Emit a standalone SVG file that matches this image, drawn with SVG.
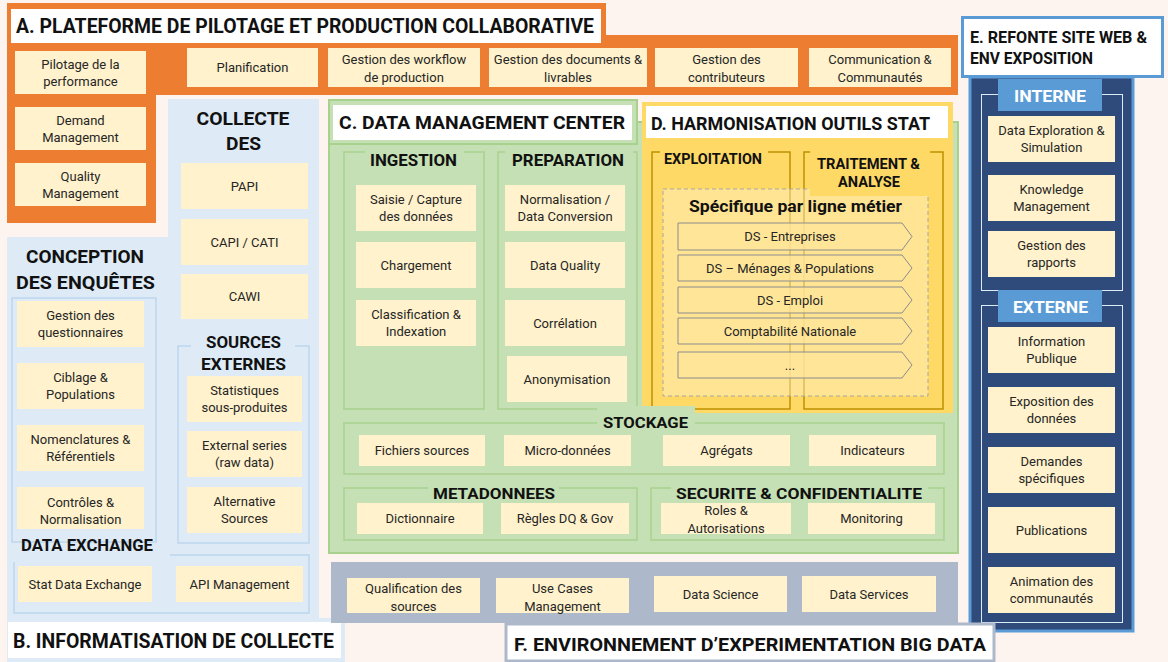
<svg xmlns="http://www.w3.org/2000/svg" width="1168" height="662" viewBox="0 0 1168 662">
<style>
.n rect{fill:#FFF2CC}
.nt{font-family:Roboto,"Liberation Sans",sans-serif;font-size:13px;fill:#262626;text-anchor:middle}
.tt{font-family:Roboto,"Liberation Sans",sans-serif;font-weight:bold;fill:#111}
.tc{text-anchor:middle}
.gg{fill:none;stroke:#A9D18E;stroke-width:1.5}
.gb{fill:none;stroke:#BDD7EE;stroke-width:1.5}
.gy{fill:none;stroke:#BF9000;stroke-width:1.5}
.ge{fill:none;stroke:#DDEBF7;stroke-width:1}
.ar{fill:#FFE699;fill-opacity:0.75;stroke:#8C8C8C;stroke-width:1}
</style>
<rect x="0" y="0" width="1168" height="662" fill="#FDF4EF"/>

<!-- Region A -->
<g id="regionA">
<path d="M7,3 H606 V35 H958 V95 H156 V223 H7 Z" fill="#ED7D31"/>
<rect x="11" y="9" width="590" height="34" fill="#FFFFFF"/>
<text class="tt" x="16" y="33" font-size="20" textLength="578" lengthAdjust="spacingAndGlyphs">A. PLATEFORME DE PILOTAGE ET PRODUCTION COLLABORATIVE</text>
</g>

<!-- Region B -->
<g id="regionB">
<path d="M168,99 H319 V618 H345 V662 H7 V237 H168 Z" fill="#DEEBF7"/>
<rect x="8" y="622" width="333" height="36" fill="#FFFFFF"/>
<text class="tt" x="13" y="648" font-size="20" textLength="321" lengthAdjust="spacingAndGlyphs">B. INFORMATISATION DE COLLECTE</text>
<text class="tt tc" x="243" y="125" font-size="19" textLength="93" lengthAdjust="spacingAndGlyphs">COLLECTE</text>
<text class="tt tc" x="243.5" y="150" font-size="19" textLength="35" lengthAdjust="spacingAndGlyphs">DES</text>
<text class="tt tc" x="85" y="263" font-size="19" textLength="118" lengthAdjust="spacingAndGlyphs">CONCEPTION</text>
<text class="tt tc" x="85.5" y="289" font-size="19" textLength="139" lengthAdjust="spacingAndGlyphs">DES ENQUÊTES</text>
<rect class="gb" x="12" y="298" width="144" height="244"/>
<rect class="gb" x="178" y="346" width="131" height="197"/>
<rect x="191" y="338" width="104" height="14" fill="#DEEBF7"/>
<text class="tt tc" x="243.5" y="348" font-size="17" textLength="75" lengthAdjust="spacingAndGlyphs">SOURCES</text>
<text class="tt tc" x="243.5" y="370" font-size="17" textLength="85" lengthAdjust="spacingAndGlyphs">EXTERNES</text>
<path class="gb" d="M170,555 H309 V613 H14 V562"/>
<text class="tt" x="21" y="551" font-size="16" textLength="132" lengthAdjust="spacingAndGlyphs">DATA EXCHANGE</text>
</g>

<!-- Region C -->
<g id="regionC">
<rect x="329" y="122" width="629" height="431" fill="#C5E0B4" stroke="#A9D18E" stroke-width="2"/>
<rect x="329" y="100" width="308" height="44" fill="#C5E0B4" stroke="#A9D18E" stroke-width="2"/>
<rect x="333" y="105" width="299" height="35" fill="#FFFFFF"/>
<text class="tt" x="339" y="129" font-size="19" textLength="286" lengthAdjust="spacingAndGlyphs">C. DATA MANAGEMENT CENTER</text>
<rect class="gg" x="344" y="152" width="140" height="257"/>
<rect x="365" y="146" width="99" height="12" fill="#C5E0B4"/>
<text class="tt tc" x="413.5" y="166" font-size="16" textLength="87" lengthAdjust="spacingAndGlyphs">INGESTION</text>
<rect class="gg" x="498" y="152" width="139" height="257"/>
<rect x="505" y="146" width="128" height="12" fill="#C5E0B4"/>
<text class="tt tc" x="568" y="166" font-size="16" textLength="112" lengthAdjust="spacingAndGlyphs">PREPARATION</text>
</g>

<!-- Region D -->
<g id="regionD">
<rect x="642" y="102" width="311" height="311" fill="#FFD966"/>
<rect x="646" y="106" width="302" height="32" fill="#FFFFFF"/>
<text class="tt" x="651" y="130" font-size="19" textLength="279" lengthAdjust="spacingAndGlyphs">D. HARMONISATION OUTILS STAT</text>
<rect class="gy" x="652" y="152" width="138" height="257"/>
<rect x="660" y="146" width="108" height="12" fill="#FFD966"/>
<text class="tt" x="664" y="164" font-size="14" textLength="98" lengthAdjust="spacingAndGlyphs">EXPLOITATION</text>
<rect class="gy" x="804" y="152" width="139" height="257"/>
<rect x="663" y="189" width="265" height="207" fill="#FFF2CC" fill-opacity="0.45" stroke="#A6A6A6" stroke-width="1" stroke-dasharray="4 3"/>
<rect x="810" y="146" width="120" height="50" fill="#FFD966"/>
<text class="tt tc" x="868.5" y="169" font-size="14" textLength="103" lengthAdjust="spacingAndGlyphs">TRAITEMENT &amp;</text>
<text class="tt tc" x="869" y="187" font-size="14" textLength="62" lengthAdjust="spacingAndGlyphs">ANALYSE</text>
<text class="tt tc" x="795.5" y="212" font-size="16" textLength="213" lengthAdjust="spacingAndGlyphs">Spécifique par ligne métier</text>
</g>

<!-- STOCKAGE / METADONNEES / SECURITE groups -->
<g id="groupsC2">
<rect class="gg" x="344" y="423" width="600" height="51"/>
<rect x="597" y="406" width="98" height="24" fill="#C5E0B4"/>
<text class="tt tc" x="645.5" y="428" font-size="15" textLength="85" lengthAdjust="spacingAndGlyphs">STOCKAGE</text>
<rect class="gg" x="344" y="488" width="293" height="52"/>
<rect x="428" y="482" width="131" height="12" fill="#C5E0B4"/>
<text class="tt tc" x="494" y="499" font-size="15" textLength="122" lengthAdjust="spacingAndGlyphs">METADONNEES</text>
<rect class="gg" x="651" y="488" width="293" height="52"/>
<rect x="671" y="482" width="257" height="12" fill="#C5E0B4"/>
<text class="tt tc" x="799" y="499" font-size="15" textLength="246" lengthAdjust="spacingAndGlyphs">SECURITE &amp; CONFIDENTIALITE</text>
</g>

<!-- Region E -->
<g id="regionE">
<rect x="970" y="77" width="163" height="554" fill="#2F4B7C" stroke="#5B9BD5" stroke-width="3"/>
<rect x="962.5" y="17.5" width="200" height="59" fill="#FFFFFF" stroke="#5B9BD5" stroke-width="3"/>
<text class="tt" x="970" y="43" font-size="16" textLength="177" lengthAdjust="spacingAndGlyphs">E. REFONTE SITE WEB &amp;</text>
<text class="tt" x="970" y="64" font-size="16" textLength="123" lengthAdjust="spacingAndGlyphs">ENV EXPOSITION</text>
<rect class="ge" x="981.5" y="94.5" width="141" height="196"/>
<rect class="ge" x="981.5" y="305.5" width="141" height="317"/>
<rect x="998" y="79" width="104" height="32" fill="#5B9BD5"/>
<text class="tt tc" x="1050" y="102" font-size="17" fill="#FFFFFF" style="fill:#FFFFFF" textLength="72" lengthAdjust="spacingAndGlyphs">INTERNE</text>
<rect x="998" y="290" width="104" height="32" fill="#5B9BD5"/>
<text class="tt tc" x="1050.5" y="313" font-size="17" style="fill:#FFFFFF" textLength="75" lengthAdjust="spacingAndGlyphs">EXTERNE</text>
</g>

<!-- Region F -->
<g id="regionF">
<rect x="331" y="562" width="627" height="61" fill="#ADB9CA"/>
<rect x="506" y="624" width="488" height="37" fill="#FFFFFF" stroke="#ADB9CA" stroke-width="3"/>
<text class="tt" x="514" y="651" font-size="19" textLength="472" lengthAdjust="spacingAndGlyphs">F. ENVIRONNEMENT D’EXPERIMENTATION BIG DATA</text>
</g>

<!-- Nodes A -->
<g id="n_pilotage" class="n"><rect x="15" y="51" width="131" height="43"/><text class="nt"><tspan x="80.5" y="68.5">Pilotage de la</tspan><tspan x="80.5" y="86">performance</tspan></text></g>
<g id="n_demand" class="n"><rect x="15" y="107" width="131" height="43"/><text class="nt"><tspan x="80.5" y="124.5">Demand</tspan><tspan x="80.5" y="142">Management</tspan></text></g>
<g id="n_quality" class="n"><rect x="15" y="163" width="131" height="43"/><text class="nt"><tspan x="80.5" y="180.5">Quality</tspan><tspan x="80.5" y="198">Management</tspan></text></g>
<g id="n_planification" class="n"><rect x="187" y="48" width="131" height="39"/><text class="nt" x="252.5" y="72">Planification</text></g>
<g id="n_workflow" class="n"><rect x="328" y="48" width="152" height="39"/><text class="nt"><tspan x="404" y="63.5">Gestion des workflow</tspan><tspan x="404" y="81.5">de production</tspan></text></g>
<g id="n_documents" class="n"><rect x="489" y="48" width="158" height="39"/><text class="nt"><tspan x="568" y="63.5">Gestion des documents &amp;</tspan><tspan x="568" y="81.5">livrables</tspan></text></g>
<g id="n_contributeurs" class="n"><rect x="655" y="48" width="143" height="39"/><text class="nt"><tspan x="726.5" y="63.5">Gestion des</tspan><tspan x="726.5" y="81.5">contributeurs</tspan></text></g>
<g id="n_communication" class="n"><rect x="809" y="48" width="142" height="39"/><text class="nt"><tspan x="880" y="63.5">Communication &amp;</tspan><tspan x="880" y="81.5">Communautés</tspan></text></g>

<!-- Nodes B -->
<g id="n_papi" class="n"><rect x="181" y="163" width="127" height="46"/><text class="nt" x="244.5" y="190.5">PAPI</text></g>
<g id="n_capi" class="n"><rect x="181" y="219" width="127" height="46"/><text class="nt" x="244.5" y="246.5">CAPI / CATI</text></g>
<g id="n_cawi" class="n"><rect x="181" y="274" width="127" height="45"/><text class="nt" x="244.5" y="301">CAWI</text></g>
<g id="n_questionnaires" class="n"><rect x="17" y="301" width="127" height="46"/><text class="nt"><tspan x="80.5" y="320">Gestion des</tspan><tspan x="80.5" y="337">questionnaires</tspan></text></g>
<g id="n_ciblage" class="n"><rect x="17" y="363" width="127" height="46"/><text class="nt"><tspan x="80.5" y="382">Ciblage &amp;</tspan><tspan x="80.5" y="399">Populations</tspan></text></g>
<g id="n_nomenclatures" class="n"><rect x="17" y="425" width="127" height="46"/><text class="nt"><tspan x="80.5" y="444">Nomenclatures &amp;</tspan><tspan x="80.5" y="461">Référentiels</tspan></text></g>
<g id="n_controles" class="n"><rect x="17" y="487" width="127" height="42"/><text class="nt"><tspan x="80.5" y="507">Contrôles &amp;</tspan><tspan x="80.5" y="524">Normalisation</tspan></text></g>
<g id="n_statistiques" class="n"><rect x="187" y="376" width="115" height="46"/><text class="nt"><tspan x="244.5" y="395">Statistiques</tspan><tspan x="244.5" y="412">sous-produites</tspan></text></g>
<g id="n_external" class="n"><rect x="187" y="431" width="115" height="46"/><text class="nt"><tspan x="244.5" y="450">External series</tspan><tspan x="244.5" y="467">(raw data)</tspan></text></g>
<g id="n_alternative" class="n"><rect x="187" y="487" width="115" height="46"/><text class="nt"><tspan x="244.5" y="506">Alternative</tspan><tspan x="244.5" y="523">Sources</tspan></text></g>
<g id="n_sde" class="n"><rect x="18" y="566" width="134" height="36"/><text class="nt" x="85" y="588.5">Stat Data Exchange</text></g>
<g id="n_api" class="n"><rect x="176" y="566" width="127" height="36"/><text class="nt" x="239.5" y="588.5">API Management</text></g>

<!-- Nodes C -->
<g id="n_saisie" class="n"><rect x="356" y="185" width="120" height="46"/><text class="nt"><tspan x="416" y="204">Saisie / Capture</tspan><tspan x="416" y="221">des données</tspan></text></g>
<g id="n_chargement" class="n"><rect x="356" y="242" width="120" height="46"/><text class="nt" x="416" y="269.5">Chargement</text></g>
<g id="n_classification" class="n"><rect x="356" y="300" width="120" height="46"/><text class="nt"><tspan x="416" y="319">Classification &amp;</tspan><tspan x="416" y="336">Indexation</tspan></text></g>
<g id="n_normalisation" class="n"><rect x="505" y="185" width="120" height="46"/><text class="nt"><tspan x="565" y="204">Normalisation /</tspan><tspan x="565" y="221">Data Conversion</tspan></text></g>
<g id="n_dataquality" class="n"><rect x="505" y="242" width="120" height="46"/><text class="nt" x="565" y="269.5">Data Quality</text></g>
<g id="n_correlation" class="n"><rect x="505" y="300" width="120" height="46"/><text class="nt" x="565" y="327.5">Corrélation</text></g>
<g id="n_anonymisation" class="n"><rect x="507" y="356" width="120" height="46"/><text class="nt" x="567" y="383.5">Anonymisation</text></g>
<g id="n_fichiers" class="n"><rect x="359" y="435" width="126" height="31"/><text class="nt" x="422" y="455">Fichiers sources</text></g>
<g id="n_micro" class="n"><rect x="504" y="435" width="127" height="31"/><text class="nt" x="567.5" y="455">Micro-données</text></g>
<g id="n_agregats" class="n"><rect x="663" y="435" width="127" height="31"/><text class="nt" x="726.5" y="455">Agrégats</text></g>
<g id="n_indicateurs" class="n"><rect x="809" y="435" width="127" height="31"/><text class="nt" x="872.5" y="455">Indicateurs</text></g>
<g id="n_dictionnaire" class="n"><rect x="357" y="503" width="126" height="31"/><text class="nt" x="420" y="523">Dictionnaire</text></g>
<g id="n_regles" class="n"><rect x="501" y="503" width="128" height="31"/><text class="nt" x="565" y="523">Règles DQ &amp; Gov</text></g>
<g id="n_roles" class="n"><rect x="661" y="503" width="130" height="31"/><text class="nt"><tspan x="726" y="514.5">Roles &amp;</tspan><tspan x="726" y="532.5">Autorisations</tspan></text></g>
<g id="n_monitoring" class="n"><rect x="808" y="503" width="127" height="31"/><text class="nt" x="871.5" y="523">Monitoring</text></g>

<!-- Nodes D -->
<g id="n_ds_entreprises"><polygon class="ar" points="678,223 902,223 912,236.5 902,250 678,250"/><text class="nt" x="790" y="241">DS - Entreprises</text></g>
<g id="n_ds_menages"><polygon class="ar" points="678,255 902,255 912,268 902,281 678,281"/><text class="nt" x="790" y="272.5">DS – Ménages &amp; Populations</text></g>
<g id="n_ds_emploi"><polygon class="ar" points="678,287 902,287 912,300 902,313 678,313"/><text class="nt" x="790" y="304.5">DS - Emploi</text></g>
<g id="n_compta"><polygon class="ar" points="678,318 902,318 912,331 902,344 678,344"/><text class="nt" x="790" y="335.5">Comptabilité Nationale</text></g>
<g id="n_etc"><polygon class="ar" points="678,352 902,352 912,365 902,378 678,378"/><text class="nt" x="790" y="369.5">...</text></g>

<!-- Nodes E -->
<g id="n_dataexploration" class="n"><rect x="988" y="116" width="127" height="46"/><text class="nt"><tspan x="1051.5" y="135">Data Exploration &amp;</tspan><tspan x="1051.5" y="152">Simulation</tspan></text></g>
<g id="n_knowledge" class="n"><rect x="988" y="175" width="127" height="46"/><text class="nt"><tspan x="1051.5" y="194">Knowledge</tspan><tspan x="1051.5" y="211">Management</tspan></text></g>
<g id="n_rapports" class="n"><rect x="988" y="231" width="127" height="46"/><text class="nt"><tspan x="1051.5" y="250">Gestion des</tspan><tspan x="1051.5" y="267">rapports</tspan></text></g>
<g id="n_information" class="n"><rect x="988" y="327" width="127" height="46"/><text class="nt"><tspan x="1051.5" y="346">Information</tspan><tspan x="1051.5" y="363">Publique</tspan></text></g>
<g id="n_exposition" class="n"><rect x="988" y="387" width="127" height="46"/><text class="nt"><tspan x="1051.5" y="406">Exposition des</tspan><tspan x="1051.5" y="423">données</tspan></text></g>
<g id="n_demandes" class="n"><rect x="988" y="447" width="127" height="46"/><text class="nt"><tspan x="1051.5" y="466">Demandes</tspan><tspan x="1051.5" y="483">spécifiques</tspan></text></g>
<g id="n_publications" class="n"><rect x="988" y="507" width="127" height="46"/><text class="nt" x="1051.5" y="534.5">Publications</text></g>
<g id="n_animation" class="n"><rect x="988" y="567" width="127" height="46"/><text class="nt"><tspan x="1051.5" y="586">Animation des</tspan><tspan x="1051.5" y="603">communautés</tspan></text></g>

<!-- Nodes F -->
<g id="n_qualification" class="n"><rect x="347" y="578" width="133" height="35"/><text class="nt"><tspan x="413.5" y="592.5">Qualification des</tspan><tspan x="413.5" y="610.5">sources</tspan></text></g>
<g id="n_usecases" class="n"><rect x="496" y="578" width="133" height="35"/><text class="nt"><tspan x="562.5" y="592.5">Use Cases</tspan><tspan x="562.5" y="610.5">Management</tspan></text></g>
<g id="n_datascience" class="n"><rect x="654" y="576" width="133" height="36"/><text class="nt" x="720.5" y="598.5">Data Science</text></g>
<g id="n_dataservices" class="n"><rect x="802" y="576" width="134" height="36"/><text class="nt" x="869" y="598.5">Data Services</text></g>

<g id="connectors"></g>
</svg>
